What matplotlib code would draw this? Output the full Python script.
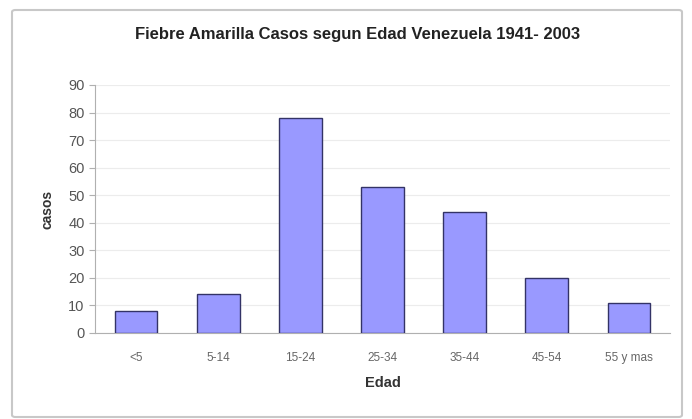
import matplotlib
matplotlib.use("Agg")
import matplotlib.pyplot as plt
from matplotlib.patches import FancyBboxPatch

categories = ["<5", "5-14", "15-24", "25-34", "35-44", "45-54", "55 y mas"]
casos = [8, 14, 78, 53, 44, 20, 11]

plt.rcParams['font.family'] = ['Liberation Sans', 'DejaVu Sans']

fig = plt.figure(figsize=(6.92, 4.19), dpi=100)
fig.patch.set_facecolor("white")

frame = FancyBboxPatch((12/692, 2/419), 670/692, 407/419,
                       boxstyle="round,pad=0,rounding_size=0.005",
                       transform=fig.transFigure, facecolor="none",
                       edgecolor="#c8c8c8", linewidth=1.5, zorder=-1)
fig.patches.append(frame)

ax = fig.add_axes([95/692, 1 - 333/419, 575/692, 248/419])
ax.patch.set_alpha(0)
x = range(len(categories))
ax.bar(x, casos, width=0.52, color="#9999ff", edgecolor="#333366", linewidth=1.0, zorder=3)
ax.set_xlim(-0.5, len(categories) - 0.5)
ax.set_ylim(0, 90)
ax.set_yticks(range(0, 91, 10))
ax.set_xticks(list(x))
ax.set_xticklabels(categories)
ax.yaxis.grid(True, color="#ececec", linewidth=0.8, zorder=0)
ax.set_axisbelow(True)
for s in ["top", "right"]:
    ax.spines[s].set_visible(False)
ax.spines["left"].set_color("#b0b0b0")
ax.spines["bottom"].set_color("#b0b0b0")
ax.tick_params(axis="y", labelsize=10.5, colors="#555555", length=4, color="#b0b0b0")
ax.tick_params(axis="x", labelsize=8.5, colors="#666666", length=0, pad=14)
ax.set_ylabel("casos", fontsize=10, fontweight="bold", color="#333333", labelpad=10)
ax.set_xlabel("Edad", fontsize=10.5, fontweight="bold", color="#333333", labelpad=8)

fig.text(358/692, 1 - 34/419, "Fiebre Amarilla Casos segun Edad Venezuela 1941- 2003",
         ha="center", va="center", fontsize=12, fontweight="bold", color="#222222")

fig.savefig("out.png", dpi=100, facecolor="white")
